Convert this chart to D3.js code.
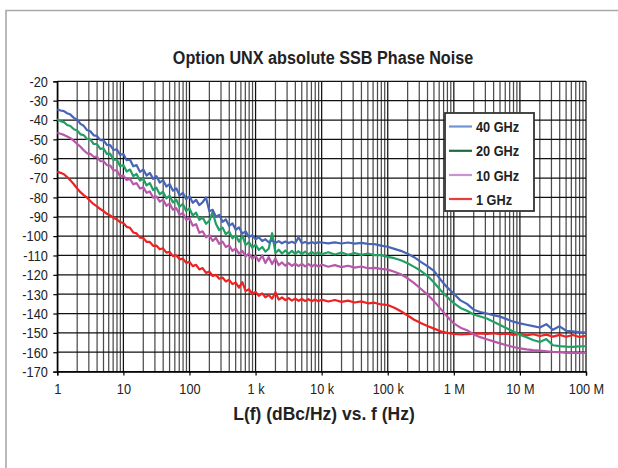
<!DOCTYPE html>
<html><head><meta charset="utf-8">
<script src="https://cdn.jsdelivr.net/npm/d3@7"></script>
<style>
html,body{margin:0;padding:0;background:#fff;}
svg{display:block;}
</style></head>
<body>
<svg id="chart" width="618" height="468"></svg>
<script>
// ---------- data ----------
const title = "Option UNX absolute SSB Phase Noise";
const xTitle = "L(f) (dBc/Hz) vs. f (Hz)";
const xTickValues = [1, 10, 100, 1e3, 1e4, 1e5, 1e6, 1e7, 1e8];
const xTickLabels = ["1", "10", "100", "1 k", "10 k", "100 k", "1 M", "10 M", "100 M"];
const yTickValues = [-20,-30,-40,-50,-60,-70,-80,-90,-100,-110,-120,-130,-140,-150,-160,-170];
const seriesNames = ["40 GHz", "20 GHz", "10 GHz", "1 GHz"];

const freqs = [
 1,1.12,1.26,1.41,1.58,1.78,2,2.24,2.51,2.82,3.16,3.55,3.98,4.47,5.01,5.62,6.31,7.08,7.94,8.91,
 10,11.2,12.6,14.1,15.8,17.8,20,22.4,25.1,28.2,31.6,35.5,39.8,44.7,50.1,56.2,63.1,70.8,79.4,89.1,
 100,112,126,141,158,178,200,224,251,282,316,355,398,447,501,562,631,708,794,891,
 1000,1120,1260,1410,1580,1780,2000,2240,2510,2820,3160,3550,3980,4470,5010,5620,6310,7080,7940,8910,
 1e4,1.26e4,1.58e4,2e4,2.51e4,3.16e4,3.98e4,5.01e4,6.31e4,7.94e4,
 1e5,1.26e5,1.58e5,2e5,2.51e5,3.16e5,3.98e5,5.01e5,6.31e5,7.94e5,
 1e6,1.26e6,1.58e6,2e6,2.51e6,3.16e6,3.98e6,5.01e6,6.31e6,7.94e6,
 1e7,1.26e7,1.58e7,2e7,2.51e7,3.16e7,3.98e7,5.01e7,6.31e7,7.94e7,
 1e8
];

const ghz40 = [
 -34.5,-35.1,-35.4,-36.5,-37.2,-38.9,-39.8,-42.0,-43.0,-45.2,
 -45.8,-47.9,-48.2,-50.4,-50.5,-52.9,-53.0,-55.5,-55.2,-57.9,
 -57.6,-60.8,-60.5,-63.9,-63.3,-66.8,-65.6,-68.7,-67.3,-70.4,
 -69.0,-72.3,-71.0,-74.4,-73.1,-76.5,-75.3,-78.9,-77.6,-80.9,
 -79.4,-82.8,-81.3,-84.0,-82.5,-80.0,-87.2,-86.4,-90.0,-89.0,
 -92.6,-91.4,-94.7,-93.4,-96.7,-95.5,-98.7,-97.5,-100.5,-99.5,
 -101.6,-100.6,-102.5,-101.6,-103.2,-102.2,-103.5,-102.6,-103.7,-102.8,
 -103.6,-102.9,-103.7,-100.6,-103.7,-103.0,-103.8,-103.0,-103.8,-103.1,
 -103.3,-103.7,-103.2,-103.8,-103.3,-103.9,-103.5,-104.0,-104.1,-104.9,
 -105.5,-106.6,-107.6,-109.1,-110.9,-113.3,-115.5,-118.0,-122.5,-126.5,
 -129.8,-133.2,-135.0,-138.0,-139.2,-140.0,-140.8,-141.6,-142.9,-144.2,
 -145.1,-145.8,-146.5,-147.2,-145.5,-148.4,-146.6,-148.9,-149.2,-149.6,
 -149.9
];
const ghz20 = [
 -39.6,-40.6,-41.1,-42.6,-43.1,-44.8,-45.4,-47.4,-47.8,-49.8,
 -50.0,-52.4,-52.4,-54.9,-54.7,-57.5,-57.4,-60.6,-60.4,-63.8,
 -63.3,-66.6,-65.6,-69.0,-67.9,-71.3,-70.3,-73.8,-72.6,-76.2,
 -75.0,-78.4,-77.0,-80.5,-79.1,-82.6,-81.2,-84.8,-83.4,-87.0,
 -85.7,-89.3,-87.9,-91.6,-90.3,-93.6,-92.1,-87.5,-93.6,-96.9,
 -95.6,-99.0,-97.6,-101.1,-99.6,-102.9,-99.8,-104.6,-103.1,-106.0,
 -104.4,-107.1,-105.6,-108.0,-106.5,-98.5,-108.7,-107.0,-109.0,-107.4,
 -109.1,-107.6,-109.2,-107.8,-109.3,-108.0,-109.4,-108.1,-109.4,-108.3,
 -109.4,-108.3,-109.5,-108.5,-109.6,-108.7,-109.7,-109.0,-109.8,-109.8,
 -110.7,-111.4,-112.5,-114.0,-115.9,-117.9,-120.5,-124.0,-128.0,-131.5,
 -134.6,-137.1,-138.6,-140.5,-141.5,-142.6,-144.3,-145.9,-147.6,-149.3,
 -150.9,-152.3,-153.7,-154.7,-153.2,-156.4,-156.8,-157.1,-157.2,-157.0,
 -156.9
];
const ghz10 = [
 -46.6,-47.1,-47.7,-48.5,-49.4,-50.8,-52.3,-53.8,-55.6,-57.2,
 -57.5,-59.0,-59.1,-61.2,-61.3,-63.3,-63.5,-66.0,-66.0,-69.0,
 -68.7,-71.0,-70.5,-73.2,-72.6,-75.4,-74.7,-77.6,-76.9,-80.1,
 -79.5,-82.2,-81.1,-84.3,-83.2,-86.4,-85.5,-89.0,-88.0,-91.6,
 -90.8,-94.6,-93.8,-98.3,-97.5,-100.6,-99.5,-102.5,-100.8,-104.0,
 -102.8,-105.6,-104.7,-107.6,-106.3,-109.0,-107.6,-110.5,-108.9,-111.7,
 -110.2,-112.9,-110.0,-113.9,-110.8,-114.4,-111.5,-115.0,-113.6,-115.3,
 -114.0,-115.4,-114.2,-115.5,-114.3,-115.6,-114.5,-115.7,-114.6,-115.8,
 -114.7,-115.8,-115.0,-116.0,-115.3,-116.3,-115.7,-116.6,-116.4,-116.9,
 -117.3,-118.4,-119.7,-121.8,-124.3,-127.2,-130.2,-133.6,-137.6,-141.6,
 -145.1,-147.3,-148.6,-150.8,-152.2,-153.3,-154.4,-155.4,-156.4,-157.3,
 -158.0,-158.5,-158.9,-159.2,-159.5,-159.8,-160.0,-160.3,-160.2,-160.4,
 -160.3
];
const ghz1 = [
 -66.7,-67.3,-68.0,-69.5,-71.2,-73.2,-75.4,-77.3,-78.8,-80.1,
 -81.8,-83.5,-84.6,-86.0,-87.1,-88.5,-89.3,-90.6,-91.3,-92.8,
 -93.2,-95.2,-95.7,-98.1,-98.6,-100.8,-100.9,-103.0,-103.0,-105.0,
 -104.9,-106.8,-106.3,-108.5,-108.1,-110.3,-109.9,-112.0,-111.6,-113.8,
 -113.3,-115.5,-114.8,-117.2,-116.5,-119.0,-118.3,-120.6,-120.0,-122.0,
 -121.4,-123.4,-122.6,-124.8,-124.0,-126.6,-123.8,-128.4,-127.4,-129.8,
 -128.8,-130.8,-129.6,-131.6,-130.4,-132.3,-129.0,-132.8,-131.7,-133.1,
 -132.0,-133.3,-132.3,-133.4,-132.5,-133.5,-132.6,-133.6,-132.7,-133.7,
 -132.8,-133.8,-133.0,-134.0,-133.3,-134.3,-133.7,-134.7,-134.4,-135.3,
 -135.6,-137.0,-138.8,-141.0,-143.2,-144.9,-146.4,-147.8,-149.2,-150.0,
 -150.5,-150.8,-150.6,-150.4,-150.2,-150.5,-150.2,-150.7,-150.4,-151.0,
 -150.5,-151.3,-150.7,-151.6,-150.9,-151.9,-151.0,-152.0,-151.1,-152.1,
 -151.5
];

// ---------- styles ----------
const lineColors = ["#4766b8", "#21a065", "#b957ab", "#ee2222"];
const legendColors = ["#6f95d4", "#1c6b3c", "#c993d2", "#ef3a3a"];
const series = [ghz40, ghz20, ghz10, ghz1];
const FONT = "'Liberation Sans', Arial, sans-serif";

const svg = d3.select("#chart");
const M = {left: 57.3, right: 586, top: 81.3, bottom: 371.6};
const x = d3.scaleLog().domain([1, 1e8]).range([M.left, M.right]);
const y = d3.scaleLinear().domain([-170, -20]).range([M.bottom, M.top]);

// outer frame
svg.append("path").attr("d", `M6,468 L6,10.5 L618,10.5`)
  .attr("fill", "none").attr("stroke", "#a9a9a9").attr("stroke-width", 1.6);

// grid
const minors = [];
for (let d = 0; d < 8; d++) for (let k = 2; k <= 9; k++) minors.push(k * Math.pow(10, d));
const grid = svg.append("g");
grid.selectAll("line.vmin").data(minors).join("line")
  .attr("x1", d => x(d)).attr("x2", d => x(d))
  .attr("y1", M.top).attr("y2", M.bottom)
  .attr("stroke", "#4d4d4d").attr("stroke-width", 1.25);
grid.selectAll("line.vmaj").data(xTickValues).join("line")
  .attr("x1", d => x(d)).attr("x2", d => x(d))
  .attr("y1", M.top).attr("y2", M.bottom)
  .attr("stroke", "#111").attr("stroke-width", 1.25);
grid.selectAll("line.h").data(yTickValues).join("line")
  .attr("x1", M.left).attr("x2", M.right)
  .attr("y1", d => y(d)).attr("y2", d => y(d))
  .attr("stroke", "#111").attr("stroke-width", 1.25);

// axes
const SX = 0.85;
const xAxis = d3.axisBottom(x).tickValues(xTickValues)
  .tickFormat((d, i) => xTickLabels[i]).tickSize(4).tickPadding(8);
const gx = svg.append("g").attr("transform", `translate(0,${M.bottom})`).call(xAxis);
const yAxis = d3.axisLeft(y).tickValues(yTickValues).tickFormat(d => String(d))
  .tickSize(4).tickPadding(5);
const gy = svg.append("g").attr("transform", `translate(${M.left},0)`).call(yAxis);
[gx, gy].forEach(g => {
  g.select(".domain").attr("stroke", "#000").attr("stroke-width", 1.3);
  g.selectAll(".tick line").attr("stroke", "#000").attr("stroke-width", 1.2);
  g.selectAll("text").attr("fill", "#222").style("font-family", FONT).style("font-size", "15px")
    .attr("transform", `scale(${SX},1)`);
});
gy.selectAll("text").attr("x", -9.5 / SX);

// series lines
const line = d3.line().x((d, i) => x(freqs[i])).y(d => y(d));
svg.append("g").selectAll("path").data(series.slice().reverse()).join("path")
  .attr("d", d => line(d))
  .attr("fill", "none")
  .attr("stroke", (d, i) => lineColors[3 - i])
  .attr("stroke-width", 2.2)
  .attr("stroke-linejoin", "round");

// legend
const lg = svg.append("g");
lg.append("rect").attr("x", 445).attr("y", 113).attr("width", 89).attr("height", 98)
  .attr("fill", "#fff").attr("stroke", "#333").attr("stroke-width", 1.8);
const rowsY = [126.5, 150.8, 175, 199];
seriesNames.forEach((n, i) => {
  lg.append("line").attr("x1", 449).attr("x2", 472).attr("y1", rowsY[i]).attr("y2", rowsY[i])
    .attr("stroke", legendColors[i]).attr("stroke-width", 2.2);
  lg.append("text").attr("transform", `translate(476,${rowsY[i] + 5.6}) scale(0.85,1)`).text(n)
    .style("font-family", FONT)
    .style("font-weight", "bold").style("font-size", "15px").attr("fill", "#222");
});

// titles
svg.append("text").attr("transform", "translate(323,64) scale(0.92,1)")
  .attr("text-anchor", "middle").text(title)
  .style("font-family", FONT)
  .style("font-weight", "bold").style("font-size", "17.6px").attr("fill", "#222");
svg.append("text").attr("transform", "translate(324,420) scale(0.92,1)")
  .attr("text-anchor", "middle").text(xTitle)
  .style("font-family", FONT)
  .style("font-weight", "bold").style("font-size", "19px").attr("fill", "#222");
</script>
</body></html>
